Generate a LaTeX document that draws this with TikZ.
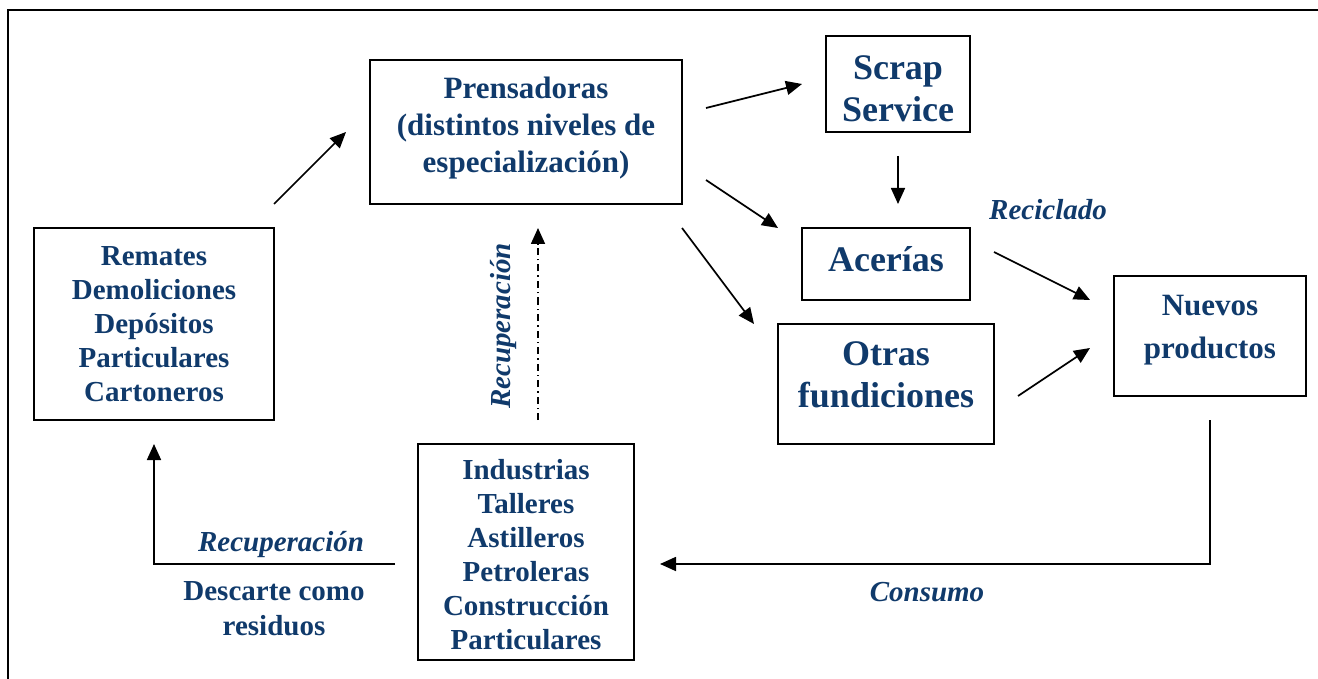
\documentclass[tikz,border=0pt]{standalone}
\usepackage{fontspec}
\setmainfont{Liberation Serif}
\usetikzlibrary{arrows.meta}
\definecolor{navy}{RGB}{16,58,107}
% invisible struts to nudge text inside a box
\newcommand{\tdepth}[1]{\rule[-#1]{0pt}{0pt}}
\newcommand{\theight}[1]{\rule{0pt}{#1}}
\tikzset{
box/.style={draw, line width=2pt, align=center, inner sep=0pt, text=navy, font=\bfseries\fontsize{29}{34}\selectfont},
midbox/.style={box, font=\bfseries\fontsize{31}{37}\selectfont},
bigbox/.style={box, font=\bfseries\fontsize{36}{42}\selectfont},
arr/.style={line width=1.7pt, -{Triangle[length=16pt,width=14pt]}},
lbl/.style={text=navy, font=\bfseries\itshape\fontsize{29}{34}\selectfont},
txt/.style={text=navy, align=center, font=\bfseries\fontsize{29}{35}\selectfont},
}
\begin{document}
\begin{tikzpicture}[x=1pt, y=-1pt]
\useasboundingbox (0,0) rectangle (1318,679);
\draw[line width=2pt] (8,679) -- (8,10) -- (1318,10);
% boxes
\node[box, minimum width=240, minimum height=192] (rem) at (154,324){Remates\\Demoliciones\\Depósitos\\Particulares\\Cartoneros};
\node[midbox, minimum width=312, minimum height=144] (pren) at (526,132){Prensadoras\\(distintos niveles de\\especialización)\tdepth{14pt}};
\node[bigbox, minimum width=144, minimum height=96] (scrap) at (898,84){\theight{33pt}Scrap\\Service};
\node[bigbox, minimum width=168, minimum height=72] (ace) at (886,264){Acerías\tdepth{10pt}};
\node[bigbox, minimum width=216, minimum height=120] (otras) at (886,384){Otras\\fundiciones\tdepth{18pt}};
\node[midbox, minimum width=192, minimum height=120, font=\bfseries\fontsize{31}{43}\selectfont] (nuevos) at (1210,336){Nuevos\\productos\tdepth{19pt}};
\node[box, minimum width=216, minimum height=216] (ind) at (526,552){\theight{26pt}Industrias\\Talleres\\Astilleros\\Petroleras\\Construcción\\Particulares};
% arrow ends
\coordinate (a1) at (274,204);
\coordinate (b1) at (346,132);
\coordinate (a2) at (706,108);
\coordinate (b2) at (802,84);
\coordinate (a3) at (706,180);
\coordinate (b3) at (778,228);
\coordinate (a4) at (682,228);
\coordinate (b4) at (754,324);
\coordinate (a5) at (898,156);
\coordinate (b5) at (898,204);
\coordinate (a6) at (994,252);
\coordinate (b6) at (1090,300);
\coordinate (a7) at (1018,396);
\coordinate (b7) at (1090,348);
\coordinate (a8) at (538,420);
\coordinate (b8) at (538,228);
\coordinate (a9) at (395,564);
\coordinate (k9) at (154,564);
\coordinate (b9) at (154,444);
\coordinate (a10) at (1210,420);
\coordinate (k10) at (1210,564);
\coordinate (b10) at (660,564);
\draw[arr](a1) -- (b1);
\draw[arr](a2) -- (b2);
\draw[arr](a3) -- (b3);
\draw[arr](a4) -- (b4);
\draw[arr](a5) -- (b5);
\draw[arr](a6) -- (b6);
\draw[arr](a7) -- (b7);
\draw[arr, dash pattern=on 7pt off 4pt on 1.5pt off 4pt](a8) -- (b8);
\draw[arr](a9) -- (k9) -- (b9);
\draw[arr](a10) -- (k10) -- (b10);
% labels
\node[lbl, rotate=90] (lrec) at (504,326){Recuperación};
\node[lbl] (lcic) at (1048,210){Reciclado};
\node[lbl] (lrec2) at (281,545){Recuperación};
\node[txt] (ldesc) at (274,609){Descarte como\\residuos};
\node[lbl] (lcon) at (927,592){Consumo};
\end{tikzpicture}
\end{document}
